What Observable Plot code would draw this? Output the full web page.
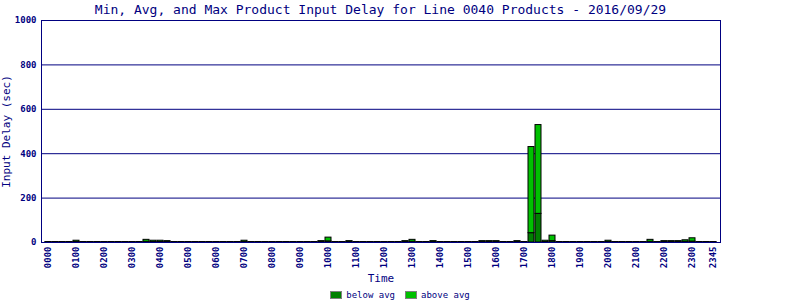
<!DOCTYPE html>
<html>
<head>
<meta charset="utf-8">
<script src="https://cdn.jsdelivr.net/npm/d3@7"></script>
<script src="https://cdn.jsdelivr.net/npm/@observablehq/plot@0.6"></script>
<style>
  html, body { margin: 0; padding: 0; background: #fff; }
  body { width: 800px; height: 300px; overflow: hidden; font-family: "DejaVu Sans Mono", monospace; color: #000080; }
  #title { width: 761px; height: 19px; line-height: 20px; text-align: center; font-size: 13px; }
  #chart svg { display: block; overflow: visible; }
  #legend { display: flex; justify-content: center; align-items: center; height: 14px; font-size: 9px; margin-top: 2px; }
  .sw { width: 10px; height: 6px; border: 1.5px solid #808080; margin-right: 4px; }
  .item { display: flex; align-items: center; margin: 0 5px; }
</style>
</head>
<body>
<div id="title">Min, Avg, and Max Product Input Delay for Line 0040 Products - 2016/09/29</div>
<div id="chart"></div>
<div id="legend"></div>
<script>
// 15-minute time slots
const slots = [];
for (let h = 0; h < 24; h++) for (let m = 0; m < 60; m += 15)
  slots.push(String(h).padStart(2, "0") + String(m).padStart(2, "0"));

const tickLabels = ["0000","0100","0200","0300","0400","0500","0600","0700","0800","0900","1000","1100",
  "1200","1300","1400","1500","1600","1700","1800","1900","2000","2100","2200","2300","2345"];

const seriesNames = ["below avg", "above avg"];
const seriesColors = ["#008000", "#00c000"];

// below avg (avg - min), seconds
const belowAvg = [
  1,1,1,1,2,1,1,1, 1,1,1,1,1,1,3,2, 2,4,1,1,1,1,1,1, 1,1,1,1,2,1,1,1,
  1,1,1,1,1,1,1,4, 5,1,1,4,1,1,1,1, 1,1,1,4,3,1,1,4, 1,1,1,1,1,1,4,4,
  4,1,1,4,1,42,129,2, 6,1,1,1,1,1,1,1, 2,1,1,1,1,1,3,1, 4,4,4,3,4,1,1,1
];
// above avg (max - avg), seconds
const aboveAvg = [
  1,1,1,1,6,1,1,1, 1,1,1,1,1,1,9,6, 6,2,1,1,1,1,1,1, 1,1,1,1,6,1,1,1,
  1,1,1,1,1,1,1,2, 17,1,1,2,1,1,1,1, 1,1,1,2,9,1,1,2, 1,1,1,1,1,1,2,2,
  2,1,1,2,1,388,400,6, 25,1,1,1,1,1,1,1, 6,1,1,1,1,1,9,1, 2,2,2,7,15,1,1,1
];

const yTicks = [0, 200, 400, 600, 800, 1000];
const gridTicks = [200, 400, 600, 800];

const data = [];
slots.forEach((s, i) => {
  data.push({slot: s, series: seriesNames[0], value: belowAvg[i]});
  data.push({slot: s, series: seriesNames[1], value: aboveAvg[i]});
});

const navy = "#000080";

const chart = Plot.plot({
  width: 800,
  height: 267,
  marginLeft: 41,
  marginRight: 80,
  marginTop: 1,
  marginBottom: 44,
  style: {fontFamily: "DejaVu Sans Mono, monospace", color: navy, background: "#fff", overflow: "visible"},
  x: {type: "band", domain: slots, paddingInner: 0.15, paddingOuter: 0.575},
  y: {domain: [0, 1000]},
  color: {domain: seriesNames, range: seriesColors},
  marks: [
    Plot.ruleY(gridTicks, {stroke: navy, strokeWidth: 1}),
    Plot.barY(data, {x: "slot", y: "value", fill: "series", stroke: "#000", strokeWidth: 1, order: seriesNames}),
    Plot.frame({stroke: navy, strokeWidth: 1}),
    Plot.axisY({ticks: yTicks, tickFormat: d => String(d), tickSize: 0, tickPadding: 5, fontSize: 9, fontWeight: "bold", fill: navy,
      label: "Input Delay (sec)", labelAnchor: "center", labelOffset: 39, labelArrow: "none"}),
    Plot.axisX({ticks: tickLabels, tickSize: 0, tickPadding: 4, tickRotate: -90, fontSize: 9, fontWeight: "bold", fill: navy,
      label: "Time", labelAnchor: "center", labelOffset: 39, labelArrow: "none"})
  ]
});
document.getElementById("chart").appendChild(chart);

// style axis labels
chart.querySelectorAll("[aria-label='x-axis label'] text, [aria-label='y-axis label'] text").forEach(t => {
  t.setAttribute("font-size", "11");
  t.setAttribute("font-weight", "normal");
});

const legend = document.getElementById("legend");
seriesNames.forEach((n, i) => {
  const item = document.createElement("div");
  item.className = "item";
  const sw = document.createElement("div");
  sw.className = "sw";
  sw.style.background = seriesColors[i];
  const lab = document.createElement("span");
  lab.textContent = n;
  item.appendChild(sw);
  item.appendChild(lab);
  legend.appendChild(item);
});
</script>
</body>
</html>
